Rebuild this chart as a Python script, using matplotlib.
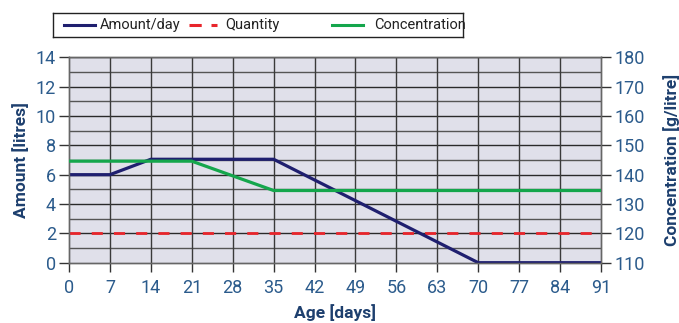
import matplotlib
matplotlib.use("Agg")
import matplotlib.pyplot as plt
from matplotlib.lines import Line2D

plt.rcParams['font.family'] = ['Roboto', 'DejaVu Sans']

# Data
amount_days = [0, 7, 14, 35, 70, 91]
amount_per_day = [6.0, 6.0, 7.05, 7.05, 0.0, 0.0]

quantity_days = [0, 91]
quantity = [2.0, 2.0]

conc_days = [0, 21, 35, 91]
concentration = [144.6, 144.6, 134.6, 134.6]

x_ticks = list(range(0, 92, 7))
left_ticks = list(range(0, 15, 2))
right_ticks = list(range(110, 181, 10))

navy = "#1f1f6f"
red = "#e8252b"
green = "#14a64c"
tick_col = "#2b5b8c"
label_col = "#1d3f6e"
bg = "#e0e0ea"

fig = plt.figure(figsize=(6.79, 3.23), dpi=100)
ax = fig.add_axes([69/679, 1-262.7/323, (601-69)/679, (262.7-57.3)/323])
ax.set_facecolor(bg)
ax.set_xlim(0, 91)
ax.set_ylim(0, 14)

# grid: a line at every litre, one at every week
for y in range(1, 15):
    ax.axhline(y, color="#2a2a2a" if y % 2 == 0 else "#555555", lw=1.0, zorder=1)
for x in x_ticks[1:-1]:
    ax.axvline(x, color="#3a3a3a", lw=1.0, zorder=1)

ax.plot(amount_days, amount_per_day, color=navy, lw=2.3, zorder=4)
ax.plot(quantity_days, quantity, color=red, lw=2.0, dashes=(4, 4), zorder=3)

ax2 = ax.twinx()
ax2.set_ylim(110, 180)
ax2.plot(conc_days, concentration, color=green, lw=2.3, zorder=3)
ax.set_zorder(0)
ax2.set_zorder(1)
ax2.patch.set_visible(False)

ax.set_xticks(x_ticks)
ax.set_yticks(left_ticks)
ax2.set_yticks(right_ticks)

for a in (ax, ax2):
    a.tick_params(axis='y', colors="#333333", labelcolor=tick_col,
                  labelsize=13, length=7, width=1.0, pad=2.5)
    a.tick_params(axis='x', colors="#333333", labelcolor=tick_col,
                  labelsize=13, length=6.5, width=1.0, pad=5)
    for s in a.spines.values():
        s.set_color("#666666")
        s.set_linewidth(1.0)

ax.set_xlabel("Age [days]", fontsize=12.5, fontweight="bold", color=label_col, labelpad=5)
ax.set_ylabel("Amount [litres]", fontsize=12.5, fontweight="bold", color=label_col, labelpad=5)
ax2.set_ylabel("Concentration [g/litre]", fontsize=12.5, fontweight="bold", color=label_col, labelpad=13)

# legend box
lax = fig.add_axes([53/679, 1-37/323, 410/679, 24/323])
lax.set_xlim(0, 410)
lax.set_ylim(0, 24)
lax.set_xticks([])
lax.set_yticks([])
for s in lax.spines.values():
    s.set_color("#222222")
    s.set_linewidth(1.0)
entries = [
    ("Amount/day", navy, "-", 11, 42, 47),
    ("Quantity", red, "--", 136, 164, 172),
    ("Concentration", green, "-", 279, 310, 321),
]
for label, c, ls, x0, x1, xt in entries:
    if ls == "--":
        lax.add_line(Line2D([x0, x1], [12, 12], color=c, lw=2.2, dashes=(4, 3.2)))
    else:
        lax.add_line(Line2D([x0, x1], [12, 12], color=c, lw=2.2))
    lax.text(xt, 12, label, va="center", ha="left", fontsize=10.5, color="#222222")

fig.savefig("out.png", dpi=100)
